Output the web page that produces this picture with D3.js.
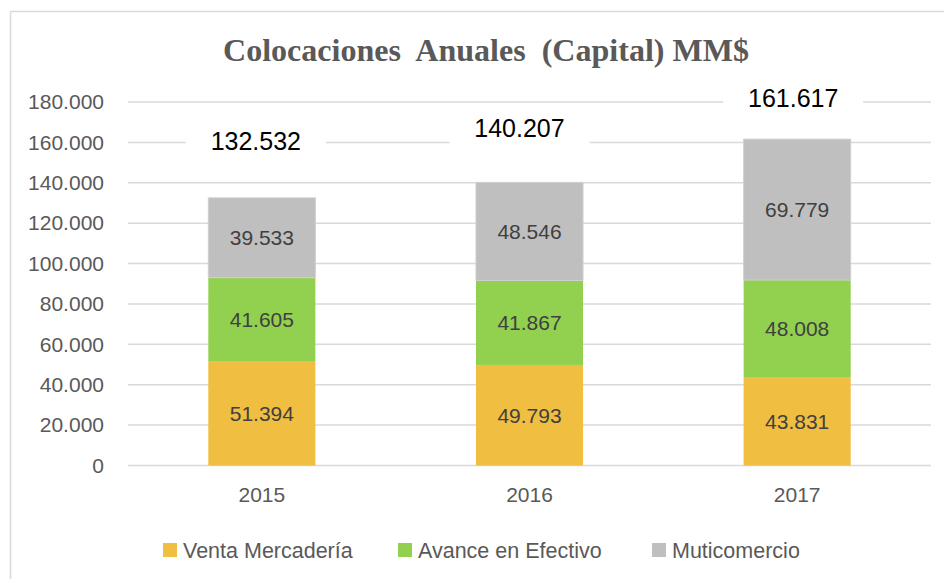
<!DOCTYPE html>
<html><head><meta charset="utf-8">
<script src="https://cdn.jsdelivr.net/npm/d3@7/dist/d3.min.js"></script>
<style>body{margin:0;background:#fff}svg{display:block}</style>
</head><body>
<svg id="c" width="944" height="579"></svg>
<script>
const years = ["2015", "2016", "2017"];
const seriesNames = ["Venta Mercadería", "Avance en Efectivo", "Muticomercio"];
const ventaMercaderia = [51394, 49793, 43831];
const avanceEfectivo = [41605, 41867, 48008];
const muticomercio = [39533, 48546, 69779];
const totals = [132532, 140207, 161617];
const yTicks = [0, 20000, 40000, 60000, 80000, 100000, 120000, 140000, 160000, 180000];

const colors = ["#F0BE41", "#92D050", "#BFBFBF"];
// manual placement of the total labels (px offsets from bar top), as in the original
const totalLabelDx = [-6, -10, -4];
const totalLabelDy = [-57, -54, -41];

const fmt = v => d3.format(",")(v).replace(/,/g, ".");

const svg = d3.select("#c");
svg.append("line").attr("x1", 10.5).attr("x2", 944).attr("y1", 11.5).attr("y2", 11.5).attr("stroke", "#D9D9D9").attr("stroke-width", 1.5);
svg.append("line").attr("x1", 10.5).attr("x2", 10.5).attr("y1", 11.5).attr("y2", 579).attr("stroke", "#D9D9D9").attr("stroke-width", 1.5);

svg.append("text").attr("x", 486).attr("y", 61).attr("text-anchor", "middle")
  .attr("font-family", "'Liberation Serif', 'Times New Roman', serif").attr("font-weight", "bold")
  .attr("font-size", 31).attr("fill", "#595959").attr("textLength", 526).attr("lengthAdjust", "spacingAndGlyphs")
  .attr("xml:space", "preserve")
  .text("Colocaciones  Anuales  (Capital) MM$");

const x = d3.scaleBand().domain(years).range([128, 931]).paddingInner(0.6).paddingOuter(0.3);
const y = d3.scaleLinear().domain([0, 180000]).range([465.5, 102]);

const font = "'Liberation Sans', Arial, sans-serif";

svg.append("g").selectAll("line").data(yTicks).join("line")
  .attr("x1", 128).attr("x2", 931).attr("y1", d => y(d)).attr("y2", d => y(d))
  .attr("stroke", "#D9D9D9").attr("stroke-width", 1.5);

const yAxis = d3.axisLeft(y).tickValues(yTicks).tickFormat(fmt).tickSize(0).tickPadding(0);
const ya = svg.append("g").attr("transform", "translate(104,0)").call(yAxis);
ya.select(".domain").remove();
ya.selectAll("text").attr("font-family", font).attr("font-size", 21).attr("fill", "#595959");

const xAxis = d3.axisBottom(x).tickSize(0).tickPadding(0);
const xa = svg.append("g").attr("transform", "translate(0,487)").call(xAxis);
xa.select(".domain").remove();
xa.selectAll("text").attr("font-family", font).attr("font-size", 21).attr("fill", "#595959");

const rows = years.map((yr, i) => ({year: yr, s0: ventaMercaderia[i], s1: avanceEfectivo[i], s2: muticomercio[i]}));
const stack = d3.stack().keys(["s0", "s1", "s2"])(rows);

const layers = svg.append("g").selectAll("g").data(stack).join("g").attr("fill", (d, i) => colors[i]);
layers.selectAll("rect").data(d => d).join("rect")
  .attr("x", d => x(d.data.year)).attr("width", x.bandwidth())
  .attr("y", d => y(d[1])).attr("height", d => y(d[0]) - y(d[1]))
  .attr("stroke", (d, i, n) => d3.select(n[i].parentNode).datum().key === "s2" ? "#D0D0D0" : "none")
  .attr("stroke-width", 1);

layers.selectAll("text").data(d => d).join("text")
  .attr("x", d => x(d.data.year) + x.bandwidth() / 2)
  .attr("y", d => (y(d[0]) + y(d[1])) / 2)
  .attr("dy", "0.35em").attr("text-anchor", "middle")
  .attr("font-family", font).attr("font-size", 21).attr("fill", "#404040")
  .text(d => fmt(d[1] - d[0]));

const tg = svg.append("g").selectAll("g").data(years).join("g")
  .attr("transform", (d, i) => `translate(${x(d) + x.bandwidth() / 2 + totalLabelDx[i]},${y(totals[i]) + totalLabelDy[i]})`);
tg.append("rect").attr("x", -70).attr("y", -24).attr("width", 140).attr("height", 48).attr("fill", "#fff");
tg.append("text").attr("text-anchor", "middle").attr("dy", "0.35em")
  .attr("font-family", font).attr("font-size", 25).attr("fill", "#000")
  .text((d, i) => fmt(totals[i]));

const legendX = [163, 398, 652];
const lg = svg.append("g").selectAll("g").data(seriesNames).join("g")
  .attr("transform", (d, i) => `translate(${legendX[i]},543)`);
lg.append("rect").attr("width", 14).attr("height", 14).attr("fill", (d, i) => colors[i]);
lg.append("text").attr("x", 20).attr("y", 7).attr("dy", "0.35em")
  .attr("font-family", font).attr("font-size", 21.5).attr("fill", "#595959").text(d => d);
</script>
</body></html>
